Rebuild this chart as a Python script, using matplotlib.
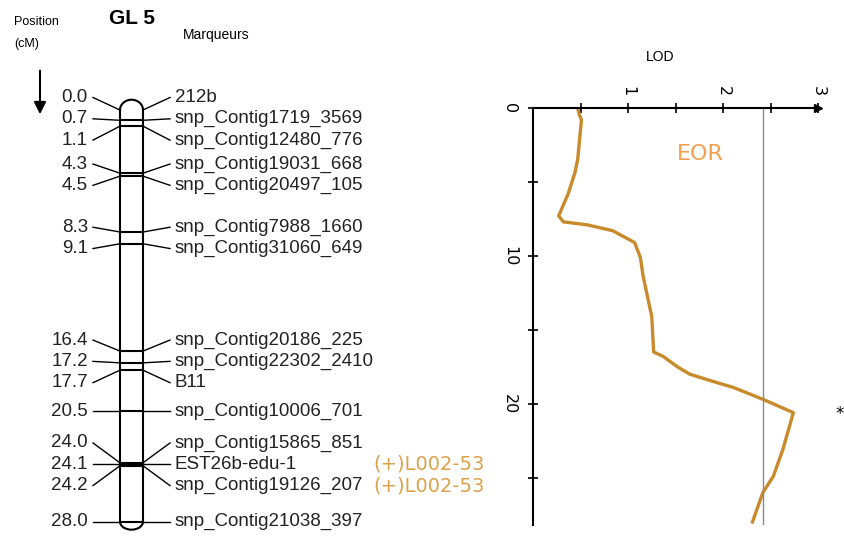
import numpy as np
import matplotlib.pyplot as plt
from matplotlib.patches import Arc

# Marqueurs du groupe de liaison GL 5
marker_names = ['212b', 'snp_Contig1719_3569', 'snp_Contig12480_776',
                'snp_Contig19031_668', 'snp_Contig20497_105',
                'snp_Contig7988_1660', 'snp_Contig31060_649',
                'snp_Contig20186_225', 'snp_Contig22302_2410', 'B11',
                'snp_Contig10006_701', 'snp_Contig15865_851',
                'EST26b-edu-1', 'snp_Contig19126_207', 'snp_Contig21038_397']
marker_cm = [0.0, 0.7, 1.1, 4.3, 4.5, 8.3, 9.1, 16.4, 17.2, 17.7,
             20.5, 24.0, 24.1, 24.2, 28.0]
qtl_markers = ['EST26b-edu-1', 'snp_Contig19126_207']
qtl_label = '(+)L002-53'

# Courbe LOD (EOR)
lod_cm = [0.0, 0.5, 0.8, 3.5, 4.4, 5.8, 7.3, 7.7, 7.9, 8.3, 9.1, 10.1,
          11.4, 14.1, 16.5, 16.8, 17.5, 18.0, 18.5, 18.9, 19.7, 20.6,
          21.3, 23.1, 24.9, 26.0, 28.0]
lod_val = [0.47, 0.49, 0.51, 0.47, 0.44, 0.37, 0.27, 0.32, 0.57, 0.84,
           1.07, 1.13, 1.16, 1.25, 1.27, 1.37, 1.52, 1.65, 1.90, 2.11,
           2.42, 2.74, 2.71, 2.63, 2.53, 2.42, 2.31]
lod_threshold = 2.42
trait = 'EOR'

W, H = 844, 537
fig = plt.figure(figsize=(W / 100, H / 100), dpi=100)
font_l = 'Liberation Sans'


def spread(pos, gap):
    # regroupe les etiquettes trop proches et les centre sur leur moyenne
    groups = [[p] for p in pos]
    changed = True
    while changed:
        changed = False
        out = [groups[0]]
        for g in groups[1:]:
            prev = out[-1]
            end_prev = np.mean(prev) + (len(prev) - 1) * gap / 2
            start_g = np.mean(g) - (len(g) - 1) * gap / 2
            if start_g - end_prev < gap - 1e-9:
                out[-1] = prev + g
                changed = True
            else:
                out.append(g)
        groups = out
    res = []
    for g in groups:
        c = np.mean(g)
        res += [c + (i - (len(g) - 1) / 2) * gap for i in range(len(g))]
    return res


# ---- carte genetique (gauche), x en pixels, y en cM
axl = fig.add_axes([0, 0, 0.6, 1])
axl.set_xlim(0, 0.6 * W)
axl.set_ylim((H - 110) / 14.7, -110 / 14.7)
axl.axis('off')

x0, x1 = 120, 143
xc = (x0 + x1) / 2
top, bot = min(marker_cm), max(marker_cm)
axl.plot([x0, x0], [top, bot], color='k', lw=1.5)
axl.plot([x1, x1], [top, bot], color='k', lw=1.5)
axl.add_patch(Arc((xc, top), x1 - x0, 1.4, theta1=180, theta2=360,
                  color='k', lw=1.5))
axl.add_patch(Arc((xc, bot), x1 - x0, 1.1, theta1=0, theta2=180,
                  color='k', lw=1.5))

label_y = spread(marker_cm, 1.45)
for name, cm, ly in zip(marker_names, marker_cm, label_y):
    if cm > top:
        axl.plot([x0, x1], [cm, cm], color='k', lw=1.5)
    axl.plot([93, x0], [ly, cm], color='k', lw=1)
    axl.plot([x1, 170], [cm, ly], color='k', lw=1)
    axl.text(88, ly, '%.1f' % cm, ha='right', va='center', fontsize=13.5,
             family=font_l, color='#222222')
    axl.text(175, ly, name, ha='left', va='center', fontsize=13.5,
             family=font_l, color='#222222')
    if name in qtl_markers:
        axl.text(373, ly, qtl_label, ha='left', va='center', fontsize=14,
                 color='#dca24a')

fig.text(14 / W, 1 - 22 / H, 'Position', fontsize=9, family=font_l,
         va='center')
fig.text(14 / W, 1 - 44 / H, '(cM)', fontsize=9, family=font_l,
         va='center')
fig.text(132 / W, 1 - 18 / H, 'GL 5', fontsize=15, family=font_l,
         weight='bold', ha='center', va='center')
fig.text(183 / W, 1 - 35 / H, 'Marqueurs', fontsize=10, family=font_l,
         va='center')
fig.add_artist(plt.Annotation('', xy=(40 / W, 1 - 117 / H),
                              xytext=(40 / W, 1 - 68 / H),
                              xycoords='figure fraction',
                              arrowprops=dict(arrowstyle='-|>', lw=1.5,
                                              color='k',
                                              mutation_scale=18)))

# ---- courbe LOD (droite)
axr = fig.add_axes([533 / W, 1 - 525 / H, 285 / W, 417 / H])
axr.plot(lod_val, lod_cm, color='#c98a2b', lw=2.4)
axr.axvline(lod_threshold, color='#8a8a8a', lw=1)
axr.set_xlim(0, 3)
axr.set_ylim(28.2, 0)
axr.spines[['right', 'bottom']].set_visible(False)
axr.spines[['left', 'top']].set_linewidth(1.5)
axr.xaxis.tick_top()
axr.set_xticks([1, 2, 3])
axr.set_xticks([0.5, 1.5, 2.5], minor=True)
axr.set_yticks([0, 10, 20])
axr.set_yticks([5, 15, 25], minor=True)
axr.tick_params(which='both', direction='inout', length=7, width=1.2,
                labelsize=11.5)
axr.tick_params(axis='x', pad=5, labelrotation=-90)
axr.tick_params(axis='y', pad=8, labelrotation=-90)
for t in axr.get_yticklabels():
    t.set_va('center')
axr.plot([3], [0], marker='>', color='k', markersize=6, clip_on=False)
axr.text(1.76, 3.1, trait, fontsize=16, color='#f0a050', ha='center',
         va='center')
axr.text(3.23, 20.7, '*', fontsize=12, ha='center', va='center',
         clip_on=False)
fig.text(660 / W, 1 - 57 / H, 'LOD', fontsize=10, family=font_l,
         ha='center', va='center')

fig.savefig('out.png', dpi=100)
